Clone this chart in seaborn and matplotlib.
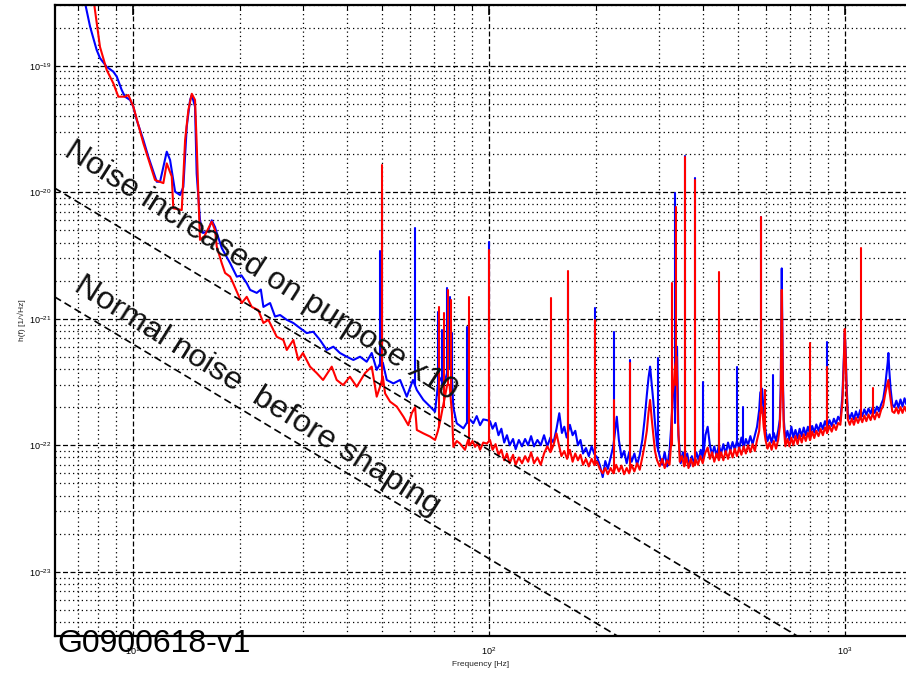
import matplotlib
matplotlib.use("Agg")
import matplotlib.pyplot as plt
import matplotlib.ticker as mticker
import numpy as np
import pandas as pd
import seaborn as sns

# broadband part of the spectra
# frequency [Hz] and amplitude [1/sqrt(Hz)]
blue_freq = [
    7.30, 7.59, 7.92, 8.09, 8.45, 8.82, 9.02, 9.31, 9.51, 9.83,
    10.04, 10.26, 10.71, 11.06, 11.68, 11.93, 12.46, 12.73, 13.15, 13.58,
    13.87, 14.18, 14.49, 14.65, 14.96, 15.12, 15.45, 15.75, 16.27, 16.67,
    17.03, 17.22, 17.8, 18.77, 19.6, 20.2, 20.9, 21.36, 22.3, 22.9,
    23.28, 24.31, 25.1, 25.93, 27.08, 28.25, 29.51, 30.8, 32.14, 33.57,
    35.07, 36.6, 38.19, 39.9, 41.67, 43.5, 45.41, 46.91, 48.45, 49.7,
    50.4, 51.7, 53.97, 56.36, 58.84, 61.25, 62.8, 65.53, 68.44, 70.66,
    72.4, 74.8, 76.9, 78.3, 79.5, 81.28, 84.88, 86.7, 88.5, 90.5,
    92.5, 94.54, 96.5, 98.72, 100.8, 102.5, 104.5, 106.5, 108.5, 110.5,
    112.5, 114.5, 117, 119, 121.5, 124, 126.5, 129, 131.5, 134,
    137, 140, 143, 146, 149, 152, 155, 157.8, 160.5, 163,
    165.5, 169, 172, 175, 178, 181, 184, 187.5, 191, 194.5,
    198, 201.5, 205, 209, 212.5, 216, 220, 224, 228.9, 232,
    236, 240, 244, 248, 252, 256.5, 261, 265.5, 270, 274,
    278, 281, 283.9, 287, 290, 293, 297, 302, 307, 312,
    317, 322, 326, 330, 335.5, 338, 341, 346, 351, 356,
    361, 366.5, 372, 377.5, 383, 388.5, 394, 400, 406, 412,
    418, 424, 430, 436.5, 443, 449.5, 456, 463, 470, 477,
    484, 491, 498, 505, 512.5, 520, 527.5, 535, 543, 551,
    559, 567, 575, 579, 586, 592, 599, 607, 615, 623,
    632, 641, 650, 657, 661, 663.5, 665.3, 667.5, 670, 674,
    681, 690, 699, 708, 717, 727, 737, 747, 757, 767,
    777, 788, 799, 810, 821, 832, 844, 856, 868, 880,
    893, 906, 919, 932, 945, 958, 972, 985, 993, 1000,
    1006, 1012, 1020, 1033, 1047, 1061, 1075, 1090, 1105, 1120,
    1135, 1150, 1166, 1182, 1198, 1214, 1231, 1248, 1265, 1282,
    1298, 1312, 1320, 1326, 1333, 1345, 1360, 1378, 1396, 1415,
    1434, 1453, 1472, 1490,
]
blue_amp = [
    3.4e-19, 2.03e-19, 1.33e-19, 1.15e-19, 9.8e-20, 8.97e-20, 8.19e-20, 6.43e-20, 5.69e-20, 5.36e-20,
    4.74e-20, 3.72e-20, 2.59e-20, 1.91e-20, 1.21e-20, 1.21e-20, 2.09e-20, 1.80e-20, 1.01e-20, 9.5e-21,
    1.10e-20, 3.30e-20, 5.36e-20, 5.87e-20, 4.74e-20, 1.40e-20, 6.0e-21, 4.76e-21, 4.9e-21, 6.0e-21,
    5.3e-21, 4.76e-21, 3.6e-21, 2.75e-21, 2.15e-21, 2.2e-21, 1.91e-21, 1.69e-21, 1.6e-21, 1.7e-21,
    1.24e-21, 1.33e-21, 1.04e-21, 1.07e-21, 9.8e-22, 9.25e-22, 8.44e-22, 7.7e-22, 7.89e-22, 6.79e-22,
    5.66e-22, 6.01e-22, 5.36e-22, 5.01e-22, 4.72e-22, 5.01e-22, 4.57e-22, 5.36e-22, 3.94e-22, 4.5e-22,
    4.5e-22, 3.28e-22, 3.08e-22, 3.28e-22, 2.42e-22, 3.28e-22, 2.73e-22, 2.28e-22, 2.02e-22, 1.84e-22,
    3.5e-22, 3.0e-22, 4.0e-22, 5.0e-22, 2.0e-22, 1.49e-22, 1.36e-22, 1.5e-22, 1.6e-22, 1.49e-22,
    1.7e-22, 1.44e-22, 1.6e-22, 1.58e-22, 1.55e-22, 1.35e-22, 1.5e-22, 1.2e-22, 1.35e-22, 1.05e-22,
    1.2e-22, 1.0e-22, 1.12e-22, 9.3e-23, 1.1e-22, 9.8e-23, 1.12e-22, 1.0e-22, 1.18e-22, 9.8e-23,
    1.1e-22, 1.0e-22, 1.2e-22, 9.8e-23, 1.15e-22, 1.05e-22, 1.35e-22, 1.79e-22, 1.25e-22, 1.4e-22,
    1.15e-22, 1.45e-22, 1.2e-22, 1.3e-22, 1.0e-22, 1.1e-22, 8.6e-23, 9.5e-23, 8.2e-23, 9.8e-23,
    8.5e-23, 8.0e-23, 7.0e-23, 5.6e-23, 7.5e-23, 6.5e-23, 8.0e-23, 1.0e-22, 1.68e-22, 1.1e-22,
    8.0e-23, 9.0e-23, 7.2e-23, 8.8e-23, 7.4e-23, 8.6e-23, 7.0e-23, 8.4e-23, 1.1e-22, 1.6e-22,
    2.5e-22, 3.4e-22, 4.18e-22, 3.0e-22, 2.2e-22, 1.5e-22, 1.0e-22, 8.2e-23, 7.0e-23, 8.8e-23,
    6.8e-23, 9.0e-23, 1.5e-22, 2.8e-22, 3.5e-22, 6.0e-22, 1.2e-22, 7.2e-23, 8.8e-23, 7.4e-23,
    8.6e-23, 6.8e-23, 8.2e-23, 7.2e-23, 8.8e-23, 7.6e-23, 9.2e-23, 7.8e-23, 1.2e-22, 1.4e-22,
    1.0e-22, 8.4e-23, 9.8e-23, 8.2e-23, 1.0e-22, 8.6e-23, 1.02e-22, 8.5e-23, 1.05e-22, 9.0e-23,
    1.06e-22, 9.2e-23, 1.08e-22, 9.4e-23, 1.15e-22, 9.6e-23, 1.12e-22, 1.0e-22, 1.18e-22, 1.02e-22,
    1.2e-22, 1.4e-22, 1.9e-22, 2.6e-22, 2.8e-22, 1.8e-22, 1.3e-22, 1.08e-22, 1.22e-22, 1.05e-22,
    1.25e-22, 1.08e-22, 1.3e-22, 1.6e-22, 3.0e-22, 1.2e-21, 2.5e-21, 9.0e-22, 3.5e-22, 1.6e-22,
    1.12e-22, 1.3e-22, 1.1e-22, 1.4e-22, 1.15e-22, 1.32e-22, 1.14e-22, 1.35e-22, 1.18e-22, 1.38e-22,
    1.2e-22, 1.4e-22, 1.22e-22, 1.42e-22, 1.26e-22, 1.46e-22, 1.3e-22, 1.5e-22, 1.34e-22, 1.55e-22,
    1.38e-22, 1.58e-22, 1.42e-22, 1.62e-22, 1.48e-22, 1.68e-22, 1.55e-22, 2.5e-22, 4.5e-22, 7.7e-22,
    5.5e-22, 3.0e-22, 1.8e-22, 1.62e-22, 1.8e-22, 1.6e-22, 1.85e-22, 1.65e-22, 1.9e-22, 1.7e-22,
    1.92e-22, 1.74e-22, 1.95e-22, 1.78e-22, 2.0e-22, 1.8e-22, 2.02e-22, 1.85e-22, 2.1e-22, 2.3e-22,
    2.9e-22, 3.8e-22, 4.5e-22, 5.36e-22, 4.0e-22, 2.8e-22, 2.1e-22, 2.0e-22, 2.25e-22, 1.98e-22,
    2.3e-22, 2.02e-22, 2.35e-22, 2.1e-22,
]

# narrow lines of the blue run: centre frequency, top and foot of each line
blue_line_freq = [49.4, 50.06, 62.09, 71.93, 73.8, 76.2, 77.84, 78.7, 87.1, 100.0,
                  149.3, 167.0, 198.9, 224.5, 249.4, 299.6, 333.6, 355.9, 379.7, 399.1,
                  444.5, 497.3, 517.0, 582.1, 597.2, 630.2, 889.3]
blue_line_top = [3.4e-21, 1.0e-20, 5.19e-21, 1.14e-21, 8.2e-22, 1.74e-21, 1.49e-21, 7.7e-22, 8.65e-22, 4.06e-21,
                 2.9e-22, 2.0e-21, 1.21e-21, 7.89e-22, 4.72e-22, 4.87e-22, 9.8e-21, 1.95e-20, 1.3e-20, 3.18e-22,
                 1.5e-22, 4.18e-22, 2.02e-22, 6.4e-21, 2.73e-22, 3.59e-22, 6.6e-22]
blue_line_foot = [4.2e-22, 4.5e-22, 3.0e-22, 2.5e-22, 3.0e-22, 3.5e-22, 4.0e-22, 3.0e-22, 1.5e-22, 1.6e-22,
                  1.1e-22, 1.3e-22, 9.0e-23, 9.0e-23, 8.5e-23, 9.0e-23, 1.5e-22, 8.0e-23, 8.0e-23, 8.0e-23,
                  9.0e-23, 1.0e-22, 1.0e-22, 2.5e-22, 1.5e-22, 1.2e-22, 1.4e-22]

red_freq = [
    7.60, 7.80, 8.09, 8.45, 8.82, 9.11, 9.51, 9.72, 10.04, 10.71,
    11.55, 12.19, 12.46, 12.87, 13.0, 13.73, 14.03, 14.33, 14.65, 14.96,
    15.12, 15.28, 15.45, 15.9, 16.67, 17.03, 17.22, 17.78, 18.17, 18.77,
    19.14, 20.24, 20.9, 21.59, 22.53, 23.28, 24.04, 25.38, 26.49, 27.08,
    28.25, 29.18, 30.07, 31.47, 32.86, 34.24, 36.22, 37.4, 38.99, 40.74,
    42.57, 44.93, 46.91, 48.45, 49.7, 50.4, 51.14, 52.82, 55.16, 57.59,
    59.43, 60.77, 62.09, 62.8, 65.53, 68.44, 70.66, 72.0, 73.2, 74.3,
    75.5, 76.4, 77.6, 78.8, 79.55, 81.3, 83.03, 85.75, 87.5, 88.6,
    90, 91.53, 93, 94.54, 96.5, 98.72, 100.8, 102.5, 104.5, 106.5,
    108.5, 110.5, 112.5, 114.5, 117, 119, 121.5, 124, 126.5, 129,
    131.5, 134, 137, 140, 143, 146, 149, 152, 155, 157.5,
    160, 163, 166, 169, 172, 175, 178, 181, 184, 187.5,
    191, 194.5, 198, 201.5, 205, 209, 212.5, 216, 220, 224,
    228, 232, 236, 240, 244, 248, 252, 256.5, 261, 265.5,
    270, 274, 278, 281, 283.9, 287, 290, 293, 297, 302,
    307, 312, 317, 322, 325, 328, 331, 333, 337, 340,
    344, 349, 354, 359, 364, 369.5, 375, 381, 387, 393,
    399, 405, 412, 418, 424, 430, 436.5, 443, 449.5, 456,
    463, 470, 477, 484, 491, 498, 505, 512.5, 520, 527.5,
    535, 543, 551, 559, 567, 575, 579, 586, 592, 599,
    607, 615, 623, 632, 641, 650, 657, 661, 663.5, 665.3,
    667.5, 670, 674, 681, 690, 699, 708, 717, 727, 737,
    747, 757, 767, 777, 788, 799, 810, 821, 832, 844,
    856, 868, 880, 893, 906, 919, 932, 945, 958, 972,
    985, 993, 1000, 1006, 1012, 1020, 1033, 1047, 1061, 1075,
    1090, 1105, 1120, 1135, 1150, 1166, 1182, 1198, 1214, 1231,
    1248, 1265, 1282, 1298, 1312, 1320, 1326, 1333, 1345, 1360,
    1378, 1396, 1415, 1434, 1453, 1472, 1490,
]
red_amp = [
    3.4e-19, 3.0e-19, 1.41e-19, 9.25e-20, 7.26e-20, 5.69e-20, 5.69e-20, 5.87e-20, 4.74e-20, 2.44e-20,
    1.25e-20, 1.18e-20, 1.69e-20, 1.33e-20, 7.46e-21, 7.23e-21, 2.59e-20, 4.47e-20, 6.0e-20, 5.36e-20,
    2.44e-20, 9.9e-21, 4.2e-21, 4.5e-21, 5.85e-21, 5.0e-21, 3.71e-21, 2.75e-21, 2.3e-21, 2.15e-21,
    1.91e-21, 1.33e-21, 1.49e-21, 1.24e-21, 1.17e-21, 9.25e-22, 9.8e-22, 7.2e-22, 6.79e-22, 5.66e-22,
    6.79e-22, 4.72e-22, 5.36e-22, 4.18e-22, 3.72e-22, 3.28e-22, 4.18e-22, 3.28e-22, 2.99e-22, 3.48e-22,
    2.9e-22, 3.72e-22, 4.18e-22, 2.42e-22, 3.0e-22, 3.5e-22, 2.57e-22, 2.21e-22, 2.02e-22, 1.68e-22,
    1.44e-22, 1.79e-22, 2.0e-22, 1.32e-22, 1.24e-22, 1.17e-22, 1.10e-22, 1.3e-22, 1.6e-22, 2.0e-22,
    2.5e-22, 3.0e-22, 3.0e-22, 1.8e-22, 9.7e-23, 1.08e-22, 1.03e-22, 9.2e-23, 1.1e-22, 1.0e-22,
    1.08e-22, 9.7e-23, 1.05e-22, 9.2e-23, 1.05e-22, 1.03e-22, 1.1e-22, 9.2e-23, 1.02e-22, 8.4e-23,
    9.2e-23, 7.6e-23, 8.6e-23, 7.2e-23, 8.4e-23, 7.0e-23, 8.0e-23, 7.2e-23, 8.2e-23, 7.4e-23,
    8.8e-23, 7.2e-23, 8.0e-23, 7.0e-23, 8.6e-23, 9.8e-23, 8.8e-23, 1.0e-22, 1.24e-22, 1.0e-22,
    8.2e-23, 9.0e-23, 7.8e-23, 9.2e-23, 7.4e-23, 8.6e-23, 7.6e-23, 8.4e-23, 7.0e-23, 7.8e-23,
    6.8e-23, 7.8e-23, 7.0e-23, 7.4e-23, 6.5e-23, 6.0e-23, 6.6e-23, 5.9e-23, 6.6e-23, 6.0e-23,
    7.0e-23, 6.2e-23, 6.9e-23, 5.9e-23, 6.6e-23, 6.0e-23, 7.0e-23, 6.2e-23, 7.2e-23, 6.4e-23,
    8.0e-23, 1.0e-22, 1.3e-22, 1.8e-22, 2.28e-22, 1.6e-22, 1.2e-22, 9.0e-23, 7.6e-23, 6.8e-23,
    7.8e-23, 6.6e-23, 7.6e-23, 7.0e-23, 1.0e-22, 2.5e-22, 3.0e-22, 4.0e-22, 5.0e-22, 1.5e-22,
    7.4e-23, 8.2e-23, 6.8e-23, 8.0e-23, 6.6e-23, 7.8e-23, 6.8e-23, 7.8e-23, 7.0e-23, 8.2e-23,
    7.2e-23, 8.6e-23, 9.6e-23, 7.8e-23, 8.8e-23, 7.4e-23, 8.6e-23, 7.6e-23, 8.8e-23, 7.6e-23,
    9.0e-23, 7.8e-23, 9.2e-23, 8.0e-23, 9.4e-23, 8.2e-23, 9.6e-23, 8.4e-23, 9.8e-23, 8.6e-23,
    1.0e-22, 8.8e-23, 1.02e-22, 9.0e-23, 1.1e-22, 1.3e-22, 1.8e-22, 2.0e-22, 1.4e-22, 1.1e-22,
    9.4e-23, 1.05e-22, 9.2e-23, 1.08e-22, 9.4e-23, 1.1e-22, 1.4e-22, 2.5e-22, 9.0e-22, 1.69e-21,
    7.0e-22, 3.0e-22, 1.4e-22, 9.8e-23, 1.12e-22, 9.8e-23, 1.15e-22, 1.0e-22, 1.18e-22, 1.02e-22,
    1.2e-22, 1.05e-22, 1.22e-22, 1.08e-22, 1.25e-22, 1.1e-22, 1.28e-22, 1.14e-22, 1.3e-22, 1.18e-22,
    1.34e-22, 1.2e-22, 1.38e-22, 1.25e-22, 1.42e-22, 1.28e-22, 1.45e-22, 1.32e-22, 1.5e-22, 1.45e-22,
    2.2e-22, 4.0e-22, 8.3e-22, 5.0e-22, 2.6e-22, 1.6e-22, 1.45e-22, 1.62e-22, 1.45e-22, 1.65e-22,
    1.5e-22, 1.68e-22, 1.52e-22, 1.72e-22, 1.55e-22, 1.75e-22, 1.58e-22, 1.78e-22, 1.6e-22, 1.82e-22,
    1.66e-22, 1.9e-22, 2.05e-22, 2.5e-22, 2.9e-22, 3.1e-22, 3.28e-22, 2.8e-22, 2.3e-22, 1.85e-22,
    1.8e-22, 1.98e-22, 1.78e-22, 2.0e-22, 1.8e-22, 2.02e-22, 1.85e-22,
]

red_line_freq = [50.06, 72.59, 74.87, 77.0, 78.18, 88.07, 100.0, 149.3, 167.0, 198.9,
                 224.5, 249.4, 326.5, 335.0, 355.9, 379.7, 444.5, 582.1, 597.2, 798.9,
                 889.3, 1109.0, 1199.0]
red_line_top = [1.64e-20, 1.24e-21, 1.11e-21, 1.69e-21, 1.41e-21, 1.49e-21, 3.49e-21, 1.45e-21, 2.38e-21, 9.7e-22,
                2.28e-22, 4.44e-22, 1.91e-21, 7.7e-21, 1.91e-20, 1.25e-20, 2.35e-21, 6.4e-21, 2.73e-22, 6.4e-22,
                4.18e-22, 3.6e-21, 2.82e-22]
red_line_foot = [3.0e-22, 1.4e-22, 2.0e-22, 3.0e-22, 2.5e-22, 1.0e-22, 1.1e-22, 9.0e-23, 8.5e-23, 7.0e-23,
                 6.0e-23, 6.5e-23, 1.0e-22, 3.0e-22, 7.0e-23, 7.0e-23, 8.0e-23, 1.8e-22, 1.2e-22, 1.1e-22,
                 1.25e-22, 1.6e-22, 1.7e-22]

# dashed reference slopes
guide_freq = [6.03, 1486.0]
guide_upper = [1.08e-20, 9.4e-25]
guide_lower = [1.49e-21, 1.31e-25]

x_ticks = [10, 100, 1000]
y_ticks = [1e-23, 1e-22, 1e-21, 1e-20, 1e-19]


def lines_table(freq, top, foot):
    # one short vertical segment per spectral line
    rows = []
    for i, (f, t, b) in enumerate(zip(freq, top, foot)):
        rows.append({"freq": f, "amp": b, "line": i})
        rows.append({"freq": f, "amp": t, "line": i})
    return pd.DataFrame(rows)


sns.set_style("white")
plt.rcParams["font.family"] = ["Liberation Sans", "DejaVu Sans"]

fig = plt.figure(figsize=(9.06, 6.74), dpi=100)
ax = fig.add_axes([0.0602, 0.0568, 0.9398, 0.9358])
ax.set_xscale("log")
ax.set_yscale("log")

runs = [
    (blue_freq, blue_amp, blue_line_freq, blue_line_top, blue_line_foot, "#0000ff"),
    (red_freq, red_amp, red_line_freq, red_line_top, red_line_foot, "#ff0000"),
]
for freq, amp, lf, lt, lb, colour in runs:
    sns.lineplot(x=freq, y=amp, color=colour, lw=1.5, estimator=None,
                 sort=False, ax=ax)
    sns.lineplot(data=lines_table(lf, lt, lb), x="freq", y="amp",
                 units="line", estimator=None, sort=False, color=colour,
                 lw=1.5, ax=ax)

for guide in [guide_upper, guide_lower]:
    sns.lineplot(x=guide_freq, y=guide, color="black", lw=1.2, ax=ax)
    ax.lines[-1].set_dashes((4.5, 2.5))

ax.set_xlim(6.03, 1486)
ax.set_ylim(3.12e-24, 3.02e-19)

sub = np.arange(2, 10)
ax.xaxis.set_major_locator(mticker.FixedLocator(x_ticks))
ax.yaxis.set_major_locator(mticker.FixedLocator(y_ticks))
ax.xaxis.set_major_formatter(mticker.LogFormatterSciNotation())
ax.yaxis.set_major_formatter(mticker.LogFormatterSciNotation())
ax.xaxis.set_minor_locator(mticker.LogLocator(base=10, subs=sub, numticks=50))
ax.yaxis.set_minor_locator(mticker.LogLocator(base=10, subs=sub, numticks=50))
ax.xaxis.set_minor_formatter(mticker.NullFormatter())
ax.yaxis.set_minor_formatter(mticker.NullFormatter())

ax.set_axisbelow(True)
ax.grid(which="major", color="black", ls=(0, (4, 2)), lw=0.9)
ax.grid(which="minor", color="black", ls=(0, (1, 2.5)), lw=0.9)

ax.tick_params(which="both", direction="in", top=True, right=False,
               labelsize=6.5, colors="black")
ax.tick_params(which="major", length=7, width=1.2)
ax.tick_params(which="minor", length=3.5, width=0.8)
ax.tick_params(axis="x", pad=7)
ax.tick_params(axis="y", pad=2)

for side in ["left", "bottom", "top"]:
    ax.spines[side].set_color("black")
    ax.spines[side].set_linewidth(1.6)
ax.spines["right"].set_visible(False)

ax.set_xlabel("Frequency [Hz]", fontsize=6, labelpad=3)
ax.set_ylabel("h(f) [1/\u221aHz]", fontsize=6, labelpad=2)

fig.text(0.288, 0.597, "Noise increased on purpose x10", fontsize=23,
         rotation=-32.4, rotation_mode="anchor", ha="center", va="center",
         color="#111111")
fig.text(0.284, 0.413, "Normal noise  before shaping", fontsize=23.4,
         rotation=-32, rotation_mode="anchor", ha="center", va="center",
         color="#111111")
fig.text(0.063, 0.033, "G0900618-v1", fontsize=23, ha="left",
         va="baseline", color="black")

fig.savefig("out.png", dpi=100, facecolor="white")
